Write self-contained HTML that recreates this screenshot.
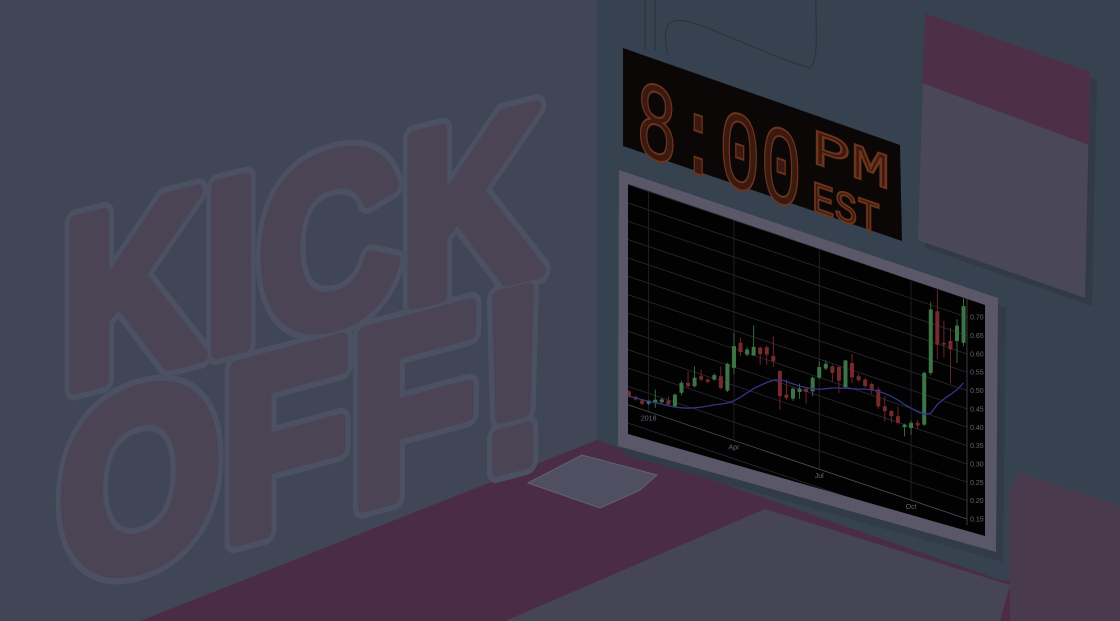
<!DOCTYPE html>
<html><head><meta charset="utf-8"><style>
html,body{margin:0;padding:0;background:#35414e;width:1120px;height:621px;overflow:hidden;}
svg{display:block;}
</style></head><body>
<svg id="scene" width="1120" height="621" viewBox="0 0 1120 621" xmlns="http://www.w3.org/2000/svg" overflow="hidden">
<defs>
<clipPath id="screenClip"><polygon points="628,184 985,305 985,536 628,434"/></clipPath>
</defs>
<rect x="0" y="0" width="598" height="621" fill="#414656"/>
<rect x="597" y="0" width="523" height="621" fill="#36424f"/>
<polygon points="597,440 1000,580 1120,600 1120,621 140,621" fill="#4b2c46"/>
<polygon points="765,509 1010,585 1000,621 505,621" fill="#454556"/>
<polygon points="1018,472 1120,505 1120,621 1010,621 1010,490" fill="#4a3a4e"/>
<polygon points="528,483 582,455 657,475 640,490 600,508" fill="#4f4f61" stroke="#626274" stroke-width="1"/>
<path d="M645,0 V50 M655,0 V50 M668,55 C660,20 670,15 700,25 C740,40 780,60 810,68 C820,60 815,20 816,0" fill="none" stroke="#2d3340" stroke-width="1.2"/>
<g font-family="'Liberation Sans',sans-serif" font-weight="bold" stroke-linejoin="round">
<g fill="#4b4454" stroke="#4b5063" stroke-width="26" paint-order="stroke">
<text x="62" y="395" font-size="240" textLength="480" lengthAdjust="spacingAndGlyphs" transform="skewY(-14) translate(0,11)">KICK</text>
<text x="58" y="592" font-size="250" textLength="490" lengthAdjust="spacingAndGlyphs" transform="skewY(-15) translate(0,11)">OFF!</text>
</g>
<g fill="#4b4454" stroke="#4b4454" stroke-width="14">
<text x="62" y="395" font-size="240" textLength="480" lengthAdjust="spacingAndGlyphs" transform="skewY(-14) translate(0,11)">KICK</text>
<text x="58" y="592" font-size="250" textLength="490" lengthAdjust="spacingAndGlyphs" transform="skewY(-15) translate(0,11)">OFF!</text>
</g>
</g>
<g>
<polygon points="623,48 900,145 902,241 623,146" fill="#0c0707"/>
<g transform="matrix(1,0.35,0,1,0,0)" font-family="'Liberation Mono',monospace" fill="#3a1a10" stroke="#6e331b" stroke-width="2">
<text x="636" y="-70" font-size="112" textLength="166" lengthAdjust="spacingAndGlyphs">8:00</text>
<text x="812" y="-122" font-size="50" textLength="78" lengthAdjust="spacingAndGlyphs">PM</text>
<text x="812" y="-74" font-size="44" textLength="68" lengthAdjust="spacingAndGlyphs">EST</text>
</g>
</g>
<g>
<polygon points="932,21 1097,80 1092,306 925,248" fill="#323a47"/>
<polygon points="925,13 1090,72 1085,298 918,240" fill="#4a4858"/>
<polygon points="925,13 1090,72 1089,145 922,83" fill="#4e2f48"/>
</g>
<polygon points="625,180 1006,308 1003,562 624,455" fill="#323b48"/>
<polygon points="619,170 998,298 996,552 618,446" fill="#5a5868"/>
<polygon points="628,184 985,305 985,536 628,434" fill="#020203"/>
<g id="chart" clip-path="url(#screenClip)"></g>
</svg>
<script>
const opens  = [.498,.483,.473,.464,.466,.468,.473,.457,.494,.521,.512,.539,.530,.530,.539,.500,.562,.630,.598,.596,.617,.618,.594,.553,.489,.478,.496,.505,.498,.535,.560,.566,.564,.509,.575,.539,.530,.518,.503,.457,.444,.430,.400,.398,.412,.407,.548,.716,.630,.635,.635,.630];
const closes = [.485,.476,.464,.472,.475,.476,.462,.489,.521,.512,.535,.530,.524,.542,.507,.573,.621,.605,.612,.619,.599,.598,.580,.485,.480,.505,.505,.496,.535,.564,.573,.548,.527,.582,.536,.528,.512,.500,.457,.444,.430,.412,.407,.412,.405,.548,.721,.625,.625,.612,.677,.730];
const highs  = [.502,.486,.476,.475,.503,.480,.484,.492,.527,.553,.566,.557,.534,.546,.566,.576,.657,.644,.618,.677,.620,.622,.648,.556,.530,.508,.519,.508,.538,.580,.582,.570,.568,.584,.600,.545,.534,.522,.510,.485,.447,.457,.410,.418,.420,.552,.742,.775,.690,.671,.694,.751];
const lows   = [.480,.473,.461,.460,.453,.465,.457,.455,.487,.507,.508,.525,.520,.527,.503,.496,.544,.594,.594,.594,.571,.570,.565,.448,.475,.472,.477,.464,.484,.532,.556,.525,.494,.505,.520,.524,.508,.490,.450,.416,.412,.407,.375,.380,.395,.404,.542,.585,.590,.521,.575,.620];
const movingAvg = [.485,.480,.475,.471,.467,.463,.459,.455,.453,.452,.453,.455,.458,.461,.463,.466,.472,.482,.494,.505,.514,.522,.528,.530,.525,.518,.512,.508,.505,.503,.505,.507,.507,.506,.505,.504,.504,.502,.498,.492,.484,.474,.462,.452,.442,.435,.438,.462,.477,.489,.502,.521];
const yTicks = [0.15,0.20,0.25,0.30,0.35,0.40,0.45,0.50,0.55,0.60,0.65,0.70];
const yTickLabels = ["0.15","0.20","0.25","0.30","0.35","0.40","0.45","0.50","0.55","0.60","0.65","0.70"];
const dateLabels = ["2018","Apr","Jul","Oct"];
const dateIndex = [3,16,29,43];

const NS="http://www.w3.org/2000/svg";
const g=document.getElementById('chart');
const X0=628, DX=6.56, SLOPE=0.337;
function xScale(i){return X0+1+i*DX;}
function yScale(v){return 519-(v-0.15)*367;}
function gridY(v,x){return yScale(v)+(x-967)*SLOPE;}
function mk(tag,attrs){const e=document.createElementNS(NS,tag);for(const k in attrs)e.setAttribute(k,attrs[k]);g.appendChild(e);return e;}

for(let k=-4;k<=24;k++){
  const v=0.15+k*0.05;
  const l=mk('line',{x1:600,y1:gridY(v,600),x2:967,y2:gridY(v,967),stroke:'#2a2a31','stroke-width':0.8});
  
  
}
dateIndex.forEach(function(di){
  const x=xScale(di);
  const l=mk('line',{x1:x,y1:150,x2:x,y2:gridY(0.15,x),stroke:'#25252b','stroke-width':0.8});
  
  
});
const ax=mk('line',{x1:628,y1:gridY(0.15,628),x2:967,y2:gridY(0.15,967),stroke:'#4a4a54','stroke-width':0.8});


const yax=mk('line',{x1:967,y1:290,x2:967,y2:525,stroke:'#4a4a54','stroke-width':0.8});



for(let i=0;i<opens.length;i++){
  const up=closes[i]>=opens[i];
  const col=up?'#3c7446':'#772a2b';
  const x=xScale(i);
  const w=mk('line',{x1:x,y1:yScale(highs[i]),x2:x,y2:yScale(lows[i]),stroke:col,'stroke-width':0.9});
  
  
  const top=yScale(Math.max(opens[i],closes[i])), bot=yScale(Math.min(opens[i],closes[i]));
  const b=mk('rect',{x:x-2,y:top,width:4,height:Math.max(1,bot-top),fill:col});
  
  
}
let d='';
movingAvg.forEach(function(v,i){d+=(i?'L':'M')+xScale(i).toFixed(1)+','+yScale(v).toFixed(1);});
const ma=mk('path',{d:d,fill:'none',stroke:'#34348a','stroke-width':1.3});



yTicks.forEach(function(v,i){
  const t=mk('text',{x:970,y:yScale(v)+2.5,'font-size':7,'font-family':"'Liberation Sans',sans-serif",fill:'#666674'});
  t.textContent=yTickLabels[i];
  
  
});
dateLabels.forEach(function(s,i){
  const x=xScale(dateIndex[i]);
  const y=gridY(0.15,x)+9;
  const t=mk('text',{x:x,y:y,'font-size':7,'text-anchor':'middle','font-family':"'Liberation Sans',sans-serif",fill:'#666674'});
  t.textContent=s;
  
  
});
</script>
</body></html>
